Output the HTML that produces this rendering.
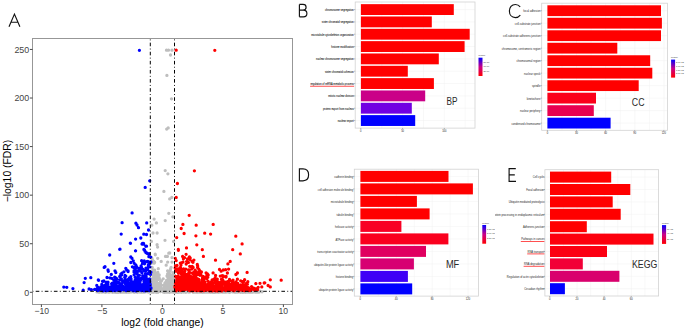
<!DOCTYPE html><html><head><meta charset="utf-8"><style>html,body{margin:0;padding:0;background:#fff;width:685px;height:330px;overflow:hidden}svg{display:block}</style></head><body>
<svg width="685" height="330" viewBox="0 0 685 330" style="font-family:'Liberation Sans', sans-serif">
<rect width="685" height="330" fill="#fff"/>
<g>
<path d="M166.5 50.2h0M168.5 50.2h0M172 50.2h0M170.5 55h0M166.9 75.4h0M171.5 98.8h0M166.7 129.1h0M168.2 127.9h0M165.2 170.6h0M167.9 173.8h0M163.9 191.4h0M169.7 198.9h0M171.8 197.4h0M154.1 219.1h0M156.4 222.9h0M151.8 225.2h0M165.2 220.6h0M168.8 213.3h0M153 233h0M157.1 233h0M151.4 241.4h0M165 240.3h0M157.1 244.7h0M157.6 247.1h0M168.8 253.2h0M155.2 254.2h0M172.9 216.8h0M173.6 241.4h0M155.3 254.8h0M165.5 256.4h0M167.4 256.4h0M169.7 253h0M157.7 258.3h0M161.2 261.4h0M172 257.6h0M151.8 257.9h0M167.7 262.1h0M172 262.1h0M166.2 265.2h0M171.1 267.4h0M163.2 278.8h0M161.4 281h0M151.3 288.3h0M151 290.8h0M151 288.4h0M151.3 288.9h0M151.1 289.1h0M151.2 274.2h0M151.2 289.2h0M151.3 263.2h0M151.2 290.3h0M151.3 273.4h0M151.1 289.8h0M151 284.5h0M151.3 282.4h0M151.9 289h0M151.6 279.4h0M151.7 286.6h0M151.7 287.5h0M151.4 286.5h0M151.4 282.7h0M151.6 285.3h0M151.7 288.5h0M151.6 290.9h0M151.9 284h0M151.9 290.5h0M151.7 280.2h0M151.6 290.2h0M151.5 289.7h0M151.8 290.2h0M152.3 286.4h0M152.2 283.6h0M152.2 282.1h0M152.2 287.7h0M152.3 288.5h0M152.3 279h0M152.3 287.9h0M152.3 259.4h0M152.1 288.3h0M152.2 267.4h0M152 290.9h0M152.1 282.1h0M152.8 287.3h0M152.9 288.9h0M152.8 290.2h0M152.4 289.8h0M152.4 285.2h0M152.7 289.3h0M152.9 287.2h0M152.5 289.4h0M152.8 269.9h0M152.5 290.8h0M152.8 288.7h0M152.9 285.3h0M152.7 287.5h0M152.8 285.9h0M152.6 271.6h0M152.5 280.1h0M152.4 282.4h0M152.6 274.5h0M152.9 284.2h0M153.1 270.3h0M153.4 282.9h0M153 288.6h0M153 286.3h0M153 289.1h0M153.3 282.5h0M153 284.1h0M153 274.7h0M153.3 288.4h0M153.3 276.8h0M153 287.7h0M153.1 272.8h0M153 281.6h0M153.2 286h0M153.2 273.4h0M153 273.3h0M153.1 278.6h0M153.3 289.3h0M153.5 290.8h0M153.5 261.1h0M153.4 271.2h0M153.5 280.1h0M153.4 289.5h0M153.7 290.2h0M153.6 270.5h0M153.8 273.6h0M153.9 290.7h0M153.5 278.2h0M153.7 290.7h0M153.7 288.8h0M153.6 290.1h0M154.1 273.9h0M154 285.6h0M154 286.5h0M154 281.6h0M154 280.1h0M154.2 290h0M154.1 285.4h0M154.4 287.5h0M154 263.2h0M154.3 280.3h0M154 289.4h0M154 290.4h0M153.9 285.2h0M154.1 284.4h0M154.1 290.9h0M154.2 282.4h0M154.7 284.7h0M154.8 280.9h0M154.6 287.9h0M154.6 262.2h0M154.6 287.1h0M154.6 289.8h0M154.9 291h0M154.7 270.2h0M154.5 283.5h0M154.6 288.8h0M154.5 290h0M154.8 278.8h0M154.9 290.6h0M154.7 287.9h0M154.7 284.7h0M154.6 262.6h0M154.9 280.3h0M155.3 285.4h0M155 283.3h0M155.3 287.3h0M155.3 287.1h0M155.2 283.6h0M155.2 288h0M155.2 284.9h0M155 283.6h0M155 272.3h0M155.1 281h0M155.2 285.9h0M155 289.8h0M155.4 285.1h0M155.2 285.2h0M155.3 288.9h0M155 277.5h0M155.1 283h0M155.3 273.5h0M155.3 290.7h0M155.1 277.1h0M155.3 290h0M155 288.7h0M155.5 287.6h0M155.8 285.4h0M155.6 290.3h0M155.7 286.4h0M155.6 278.8h0M155.8 289.8h0M155.7 287.5h0M155.7 288.9h0M155.6 287.8h0M155.6 290.9h0M155.5 284.5h0M155.4 289.5h0M155.8 288.5h0M155.6 288.9h0M155.8 290.3h0M155.7 276.1h0M155.5 286.8h0M155.8 283.7h0M155.6 290.7h0M155.6 287.5h0M155.8 288.3h0M155.6 283h0M155.8 287.7h0M156.1 284.5h0M156.4 289.4h0M156.4 281.7h0M156.1 282.8h0M156.1 290.5h0M156.3 287.4h0M156.2 285.9h0M156.4 280.4h0M155.9 284.3h0M156.1 286.4h0M156.3 287h0M156.1 274.5h0M156.1 286h0M156.2 278h0M156.2 280.9h0M156.1 290.7h0M156.2 285h0M156.3 280h0M156 289.1h0M156.4 279h0M156.5 290.3h0M156.8 285.1h0M156.4 282.9h0M156.8 286.3h0M156.4 282.7h0M156.6 284.8h0M156.9 279h0M156.8 289.9h0M156.6 285.8h0M156.5 288.8h0M156.6 288.9h0M157.3 285.6h0M157.2 287.4h0M156.9 288.6h0M157.3 280.3h0M157.3 289h0M157 290.6h0M157.2 287.9h0M157.1 286.6h0M157.2 288h0M157.3 289.5h0M157.4 285.6h0M156.9 288.5h0M157.2 287.5h0M157.2 288.4h0M157 280.5h0M157 282.8h0M157.3 285.1h0M157.1 273h0M157.1 277.1h0M156.9 287.2h0M157.7 290.7h0M157.8 290.5h0M157.7 289.8h0M157.9 285.9h0M157.8 286.8h0M157.7 284.1h0M157.5 289.5h0M157.8 290h0M157.9 289.6h0M157.5 290.4h0M157.8 272.5h0M157.6 284.4h0M157.5 276.5h0M157.7 290h0M157.4 283.7h0M157.4 279.9h0M157.5 289.4h0M157.7 288.6h0M158.2 290h0M158.4 288.8h0M158.3 290.1h0M158.3 268.7h0M158.1 290.8h0M158.1 285.2h0M158 286.5h0M157.9 287.4h0M158.3 287.8h0M158.2 290.3h0M158.3 290.3h0M158.4 286.7h0M158 288.6h0M158.3 287.1h0M158.4 290.4h0M158.1 279.6h0M158.7 287h0M158.4 290.2h0M158.5 279.4h0M158.8 289.7h0M159.4 290.8h0M159.2 274.9h0M159.1 277.4h0M159.2 290.8h0M159.1 288.2h0M159 284.6h0M159 283.7h0M159 290.7h0M159.2 290.5h0M159.2 283.7h0M159.2 288.1h0M159.4 288h0M159.4 286.6h0M159.5 287.4h0M159.6 289h0M159.7 290.2h0M159.5 279.1h0M159.6 283.2h0M159.8 288.3h0M160 290.6h0M160.3 290.5h0M160.1 288.2h0M160 288.7h0M160 288.2h0M160.2 289.3h0M160 289.1h0M160.5 290.6h0M160.5 284.7h0M160.7 284.2h0M160.4 282.2h0M160.6 286.2h0M161.2 288.2h0M161 287.7h0M161 290.3h0M160.9 289.8h0M161.2 290.2h0M161.3 290.8h0M161.2 290.4h0M161.7 288.3h0M161.8 290.9h0M161.5 289.4h0M162.4 290.9h0M162.2 289.2h0M162.8 290.4h0M162.8 290.1h0M162.9 291h0M162.9 290.2h0M163.1 290.9h0M163 289h0M163.2 290.8h0M163.1 290.8h0M163.5 290.6h0M163.6 285.3h0M163.9 288.6h0M163.6 289.9h0M164.3 285.9h0M164.3 288.8h0M164 288.9h0M164.3 287.7h0M163.9 288.3h0M164.1 290.6h0M164.4 288.6h0M164.8 290.6h0M164.8 283.3h0M164.9 287.2h0M164.8 286.5h0M164.7 289.4h0M164.8 286.7h0M164.8 290h0M164.9 288.9h0M165.4 290.6h0M165.4 285.6h0M165 284.7h0M165 290.2h0M165.1 290.1h0M165.1 282.7h0M165.2 286.7h0M165.1 285.7h0M165.8 286.5h0M165.9 284.1h0M165.6 290.6h0M165.7 283.9h0M165.6 287.4h0M165.8 284.8h0M165.4 288.4h0M165.4 290.5h0M165.8 288.9h0M166.2 288.3h0M166.1 290h0M166.1 282.9h0M166.2 289.5h0M165.9 289.6h0M166.3 288.5h0M166.2 283.8h0M166 286h0M165.9 283.5h0M166.5 289.5h0M166.9 288.9h0M166.5 280.5h0M166.7 280.3h0M166.6 287.7h0M166.9 287.6h0M166.9 290h0M166.8 290.2h0M166.7 291h0M167 276h0M167.1 282.4h0M167 288.7h0M167.5 286.7h0M167.8 287.1h0M167.6 276.7h0M167.8 285.1h0M167.4 285.7h0M167.6 273.9h0M167.6 285.2h0M167.7 288.5h0M167.7 284.9h0M167.9 287.3h0M167.6 270.8h0M167.4 281.3h0M167.7 286.6h0M168.1 283.3h0M168.3 283.7h0M168.3 290.8h0M168.1 290.2h0M168.4 278.6h0M168 286.1h0M168.2 290.7h0M168.1 283.3h0M168.2 289.2h0M168.3 289.1h0M168.7 287.9h0M168.9 285h0M168.8 284.5h0M168.6 272.1h0M168.8 284.3h0M168.5 290h0M168.7 281h0M168.8 288.6h0M168.5 286.8h0M168.8 290h0M168.8 289.9h0M168.6 290.7h0M169 288.2h0M169.4 271.7h0M169 288.8h0M169.4 289.7h0M169.1 287.6h0M169 289.2h0M169.1 288.1h0M169.4 289.2h0M169 276.9h0M169.1 280.3h0M169.2 282.1h0M169.1 290h0M169.3 287.3h0M169.2 284.4h0M169.3 289.1h0M169.1 276.3h0M169.7 289h0M169.7 289.2h0M169.8 290.7h0M169.8 286h0M169.6 274.2h0M169.5 289.3h0M169.4 286.2h0M170.3 284.2h0M170.1 281.1h0M170 288.8h0M170.2 270.4h0M170.2 283.9h0M170.3 288h0M170.4 282.8h0M170.1 288h0M170.3 288.4h0M170 278.6h0M170.2 286.6h0M170.2 277h0M170 288.5h0M169.9 287.8h0M170.2 279.5h0M170.2 285.8h0M170.1 285.9h0M170 279.8h0M170.3 280h0M170 284.3h0M170.3 286.8h0M170.3 277.2h0M170.8 280.5h0M170.7 278.2h0M170.5 283.6h0M170.8 285.2h0M170.5 290.6h0M170.7 280.4h0M170.5 289.5h0M170.5 290.4h0M170.7 268.6h0M170.8 288.3h0M170.7 290.5h0M171.3 288.6h0M170.9 284.9h0M171 289h0M170.9 287.4h0M171.2 280.9h0M170.9 280.2h0M171 289.4h0M171.2 288.4h0M171.1 285.8h0M171 281.3h0M171 279.8h0M171.3 286.3h0M170.9 281.7h0M170.9 286.7h0M171.1 290.6h0M171.2 283.1h0M171.2 287.9h0M171.7 285.5h0M171.5 278.5h0M171.9 280.9h0M171.9 288.5h0M171.9 290.5h0M171.6 290.1h0M171.6 283.9h0M171.8 287.2h0M171.6 289.7h0M171.6 288.9h0M171.5 282.7h0M171.7 287.4h0M171.5 283.5h0M172 289.1h0M172.2 283.4h0M172.4 282.4h0M172.4 275.2h0M172.3 283h0M171.9 289.6h0M171.9 278.5h0M172.3 284.8h0M172 288.3h0M172 284.7h0M172.4 288.7h0M171.9 289.8h0M172.1 276.7h0M172.3 287.2h0M172 290.3h0M172 281.6h0M172.4 281.1h0M172.1 280.2h0M172 290.3h0M172.2 286.6h0M172 289.2h0M171.9 276h0M172.8 272.7h0M172.9 287.4h0M172.8 287.9h0M172.8 279.4h0M172.5 290.9h0M172.5 285.5h0M172.6 290.9h0M172.8 281.3h0M172.6 290.7h0M172.8 286.2h0M172.4 288.5h0M172.7 277.4h0M172.6 284.6h0M173 289.2h0M173.4 287.9h0M173 285.3h0M173 289.6h0M173.1 285.4h0M173.2 283.2h0M173.1 290.6h0M173.3 290.7h0M173.1 287.8h0M173.2 283.1h0M173 284.4h0M173.2 287h0M173 275.8h0M173.2 290.6h0M173.5 287.8h0M173.8 279.9h0M173.7 282.4h0M173.4 290.4h0M173.9 280.7h0M173.4 290.7h0M173.5 274h0M173.5 283.9h0M173.9 284.5h0M173.9 289.1h0M173.5 290.9h0M174.3 290.3h0M174.4 283.1h0M174 280.5h0M174 286.4h0M174 281.1h0M174.3 275.1h0M173.9 278.8h0M174.2 280h0M174.2 284.8h0M174.2 280.7h0M173.9 290.6h0M174.2 288.8h0M174.1 291h0M174.3 290.8h0M174.3 280.3h0M174.1 290.2h0M174.2 289.5h0M174.1 290.3h0M258.1 291.8h0M155.2 291.3h0M217.5 292.2h0M237 291.3h0M157.7 291.5h0M222.8 291.4h0M197.1 292.3h0M223.9 291.2h0M109.4 291.3h0M211.3 291.9h0M182.8 291.7h0M164.2 291.9h0M204 292.3h0M217.9 292.1h0M247.6 292.2h0M215.3 291.2h0M209.3 292.2h0M168.1 292.2h0M126.7 292.3h0M169.9 292h0M138.7 291.5h0M154.5 291.6h0M112.6 291.7h0M258.8 292h0M250.8 292.1h0M235.1 292.3h0M221.2 291.5h0M138.2 291.7h0M100.5 291.5h0M243.2 292.3h0M151.2 292.1h0M224.9 292.2h0M228.1 291.8h0M114.3 292.1h0M148.8 291.9h0M157.6 291.8h0M256.3 291.4h0M184.6 291.9h0M185.8 292.3h0M164.2 292.3h0M210.8 292.3h0M111.8 291.4h0M144.4 292.2h0M99.2 291.5h0M215.1 292.3h0M126.1 291.7h0M210.3 292h0M220.1 292.1h0M138 291.5h0M101.6 292h0M131.5 291.5h0M256.1 291.9h0M194.5 292h0M195.6 292h0M147.1 291.3h0M108 291.2h0M156.6 291.4h0M115.6 291.8h0M257 292h0M142.1 292.1h0M126.4 291.3h0M147 291.7h0M210.8 291.7h0M217.2 291.3h0M250.8 291.6h0M234.3 291.2h0M233.7 291.5h0M238.1 292.1h0M207.7 291.5h0M98.6 291.4h0M246.3 291.4h0M205.8 291.9h0M206.1 291.4h0M120.7 291.3h0M259.1 291.6h0M204.6 291.9h0M133.8 291.3h0M99.4 292.2h0M118.5 292.3h0M157 292h0M119.8 292.1h0M138.5 291.6h0M183.3 291.3h0M138 292.1h0M144.1 291.6h0M223.2 291.5h0M129 291.5h0M160.4 291.6h0M202.8 291.7h0M240.5 291.3h0M206.5 292.2h0M135.7 291.2h0M169.3 291.3h0M172.9 292h0M112.5 291.3h0M176.1 291.4h0M135.1 291.7h0M116.5 291.3h0M156.6 291.7h0M251.5 291.8h0M108.8 291.5h0M219.8 291.8h0M240.6 292.3h0M238.6 291.3h0M252.7 291.8h0M136.6 291.4h0M239.7 291.4h0M110.7 291.5h0M249.5 291.7h0M217.7 291.3h0M171.7 291.6h0M130.9 292h0M156.6 291.3h0M259.4 291.8h0M126.7 291.2h0M204.7 291.8h0M101 291.7h0M219.2 291.8h0M135.6 291.8h0M196.8 291.9h0M120.9 292.1h0M253 292.1h0M238.5 291.6h0M245.9 291.4h0M134.4 291.9h0M245.8 291.3h0M132.8 291.2h0M169.4 291.4h0M128.6 292.1h0M193.2 292.3h0M163.3 292h0M99.1 292.3h0M135.5 291.7h0M181.4 292.3h0M178.2 292.3h0M199.5 291.4h0M234.6 291.4h0M261.9 291.7h0M134.3 292.3h0M150.1 291.7h0M153.6 292h0M100.8 291.6h0M123.7 292.2h0M97 291.9h0M139.5 291.7h0M189.7 292h0M119.7 291.5h0M116.9 292.3h0M121.6 291.4h0M183.2 291.9h0M243.3 291.3h0M135.7 291.4h0M193.6 291.7h0M164.5 292.2h0M206.2 292.2h0M254.9 291.5h0M252.4 291.7h0M105.5 292.3h0M114.2 291.2h0M144.8 291.5h0M256.5 292.2h0M166.3 291.8h0M237.1 292.1h0M204.8 291.8h0M116.2 291.5h0M205.6 291.9h0M229.2 292.2h0M255.8 291.4h0M109.5 292.2h0M191.1 291.4h0M211.2 291.5h0M136 291.6h0M183.4 292h0M109.1 292.1h0M200 291.7h0M207.9 292.1h0M98.6 291.7h0M208.9 292h0M203.8 291.4h0M255.2 292.1h0M135.4 291.7h0M255.1 291.4h0M164.5 292.3h0M245.5 291.5h0M218.3 291.6h0M206.5 292.1h0M118 291.5h0M132.5 291.5h0M102.9 291.4h0M164 291.7h0M109.8 291.9h0M252.5 291.9h0M155.7 292h0M169.1 291.4h0M176.5 291.2h0M208.5 291.4h0M158 292.3h0M223.5 292.2h0M202.9 291.9h0M213.3 292.3h0M129.4 292.1h0M146.6 291.5h0M232.6 291.9h0M237.2 292.2h0M194.2 291.4h0M99.5 291.8h0M216.7 291.5h0M108.6 291.2h0M125.6 292h0M97.6 291.5h0M140.7 292h0M259.9 291.2h0M115.8 292.3h0M257 291.4h0M152.3 291.8h0M149.8 291.7h0M176 291.5h0M106.1 291.3h0M123.8 291.3h0M200 292h0M140.4 292.1h0M217.2 291.6h0M178.1 291.4h0M250.3 291.8h0M105.5 291.4h0M211.3 291.6h0M215.3 291.5h0M228.5 292.1h0M112.5 291.9h0M128.6 292h0M229.7 292.1h0M135.2 291.3h0M206.5 291.8h0M119.8 291.4h0M193.1 291.3h0M201.6 291.5h0M139.7 291.7h0M185 292h0M102.1 292h0M133.5 291.5h0M202.6 292h0M198.4 292.2h0M130.8 291.6h0M206.3 291.5h0M123 291.5h0M224.3 292.2h0M215.2 292.3h0M228.1 291.6h0M149.1 292h0M106.2 291.9h0M111.7 291.3h0M181.8 291.4h0M250.7 292.2h0M173.2 291.4h0M116.7 291.8h0M183 291.6h0M215.2 291.8h0M224.9 291.3h0M108.6 291.6h0M176.8 291.5h0M207.3 291.5h0M149.5 291.7h0M214.5 292.1h0M158.3 291.7h0M250 292.3h0M199.1 291.3h0M172.2 291.9h0M143 291.2h0M258.9 292.2h0M118.3 291.7h0M199.2 291.5h0M108.3 292.1h0M224.2 291.7h0M111.1 291.7h0M112.5 292.3h0M105.5 291.5h0M223.7 291.4h0M114.6 291.3h0M124.1 291.8h0M234.5 291.4h0M125.7 292.1h0M167.3 291.6h0M117.3 291.5h0M257.3 291.3h0M139.8 292.1h0M244.1 292.2h0M175 292.3h0M196.7 291.5h0M173.8 292h0M218.1 291.3h0M129 292.3h0M114.7 292.1h0M152.9 291.5h0M139.1 291.7h0M260.4 291.4h0M238 291.6h0M125.5 292.1h0M153.4 291.4h0M166 292.1h0M239.4 291.9h0M98.7 292.1h0M197.1 292.2h0M254.1 291.6h0M237 292.1h0M140.9 291.6h0M158.8 291.6h0M159.4 291.3h0M134.5 292.2h0M164.7 291.9h0M243.4 292.1h0M137.3 292.3h0M229.7 292.3h0M217.1 292.1h0M231.1 291.5h0M205.2 291.6h0M235.6 291.4h0M186 291.6h0M232.4 291.6h0M236.2 292.2h0M242 291.4h0M251.8 292.1h0M208.7 292h0M104.9 292.2h0M187.4 291.7h0M153 292.1h0M226.1 292.2h0M132.3 291.6h0M138.1 291.3h0M151 291.2h0M228.4 291.5h0M108.7 291.3h0M219.3 291.4h0M173.2 291.7h0M229.4 292.3h0M148.1 291.9h0M244.6 291.7h0M245.4 292h0M148.4 292.2h0M191.6 291.3h0M193.9 292.2h0M182.6 291.8h0M165.7 292.2h0M206.8 291.4h0M156.8 291.6h0M255.2 292h0M117.6 292.3h0M102.8 291.9h0M168.3 292h0M167.8 291.3h0M183.4 292.1h0M227.2 291.6h0M133.7 292.1h0M229.3 291.5h0M242.7 292.3h0M168.5 291.6h0M214.1 292.3h0M130.3 291.5h0M151.3 292h0M127.8 291.8h0M179.6 292h0M120.6 292.3h0M262 291.8h0M228.2 291.4h0M247.2 291.8h0M222.3 292.2h0M156.7 292.3h0M131.2 291.2h0M179.9 292.2h0M245.6 292.3h0M181.3 292.3h0M189.4 291.4h0M201.1 292.1h0M166.9 291.9h0M139.8 291.5h0M166.3 291.8h0M174.3 291.3h0M97.9 291.6h0M215.3 292.1h0M136.1 291.5h0M182.3 291.4h0M196.5 292.2h0M130.3 291.9h0M215.9 292.1h0M214.5 292h0M142 292.2h0M249.6 291.3h0M252.8 291.7h0M111.2 291.3h0M228.5 292h0M120.4 291.7h0M202.4 292.3h0M152.4 292.1h0M137.4 291.4h0M123.6 291.7h0M199 291.5h0M123.7 291.5h0M111 291.4h0M149.1 291.8h0M127.3 291.8h0M169.6 292.3h0M177.2 292.3h0M174.8 291.4h0M194.7 291.4h0M124.9 291.3h0M212.7 292.3h0M163.6 291.6h0M167.2 291.6h0M211 291.7h0M122.1 292.2h0M191.5 291.2h0M237.2 292h0M155.5 291.9h0M248.8 291.7h0M168.4 291.5h0M188.4 292h0M218.3 292.3h0M121 291.6h0M237.5 292.1h0M194.4 292h0M153.1 292.3h0" stroke="#bebebe" stroke-width="3.30" stroke-linecap="round" fill="none"/>
<path d="M139.4 50.3h0M149.7 180.8h0M145.2 187.4h0M132.1 212.9h0M122.1 222.7h0M135.9 223.2h0M137 225h0M138.5 227.7h0M146.7 222.9h0M148.5 230h0M121.2 234.1h0M143.8 234.2h0M146.5 234.5h0M140.8 238h0M135.6 239.1h0M130.3 243.2h0M142 244.1h0M143.5 243.3h0M146.5 246.2h0M120 249.2h0M135.6 250.8h0M143.9 249.4h0M145 251.2h0M146 252.7h0M147.3 253.5h0M130.5 243.3h0M142.5 243.3h0M143.7 244.2h0M145.8 246.3h0M119.7 249.3h0M135.5 250.8h0M144.5 250h0M146.7 253h0M109.7 255h0M130.8 257h0M132 258.3h0M149.2 256.7h0M133.3 260.8h0M130.8 262.5h0M134.2 263.3h0M144.2 260.8h0M142.5 263.3h0M145 262.5h0M148.3 261.7h0M150 263.3h0M113.8 263.3h0M105 266.7h0M108 270h0M108.3 271.3h0M115 270.8h0M115.8 272.5h0M125.8 268.3h0M126.7 270h0M135.8 265h0M136.7 266.7h0M135 269.2h0M139.2 268.3h0M140 270.8h0M120.8 274.2h0M111.7 278.3h0M107 277.5h0M98.3 280h0M102.5 281.3h0M63.8 287.1h0M66.8 287.3h0M72.9 288.6h0M83.2 290.2h0M84.1 282.6h0M85.3 278.3h0M90.8 277.7h0M98.6 280.3h0M102.9 281.4h0M104.2 267.4h0M89.1 289h0M91.4 289.7h0M94.6 289.4h0M96.8 285.4h0M96.8 289h0M97 289.7h0M96.9 289.3h0M96.6 289.6h0M97.7 287.1h0M97.6 288.4h0M98.8 288.9h0M99.3 289.7h0M99.5 289.3h0M99.8 288.6h0M99.7 287.8h0M100.2 289h0M100.9 286.8h0M101.1 287.6h0M101.8 284.3h0M101.9 288.9h0M102 289.5h0M102.2 285.9h0M102.1 288h0M102 286.8h0M102.4 287.5h0M102.9 288.7h0M102.8 287.2h0M103.8 288h0M103.9 281h0M104.2 286.4h0M104 286h0M104.4 288.8h0M104.2 286.3h0M104.5 287.8h0M105.1 289.4h0M105.5 284.9h0M105.6 288.8h0M106.2 282.7h0M106 287.8h0M106.3 282.4h0M106.4 282.9h0M106.1 288h0M106.2 282.4h0M107 289.2h0M106.6 288.9h0M106.6 287.5h0M106.8 288.7h0M106.5 287.9h0M106.7 286.9h0M107 285.7h0M107.3 286.4h0M107.3 289.6h0M107.9 284.3h0M107.9 284h0M107.7 288h0M107.6 286.2h0M107.5 289.5h0M108.1 289.1h0M108.2 289.6h0M108 289.2h0M108.1 288.1h0M108 282.2h0M108.8 289.2h0M109.1 288.2h0M109.2 289.3h0M109.7 287.2h0M110 289.4h0M110.2 288.6h0M110.4 289.1h0M110 277.9h0M110.3 289.2h0M110.8 289.7h0M111.3 274.4h0M111.9 285h0M111.6 287.9h0M111.6 283.8h0M111.8 283.7h0M112.2 288.8h0M112.4 283.1h0M112.9 284.2h0M112.6 286.8h0M112.7 289.7h0M113 288.4h0M113.1 284.9h0M113.5 287.3h0M113.5 287.9h0M113.6 288.7h0M113.6 288.8h0M113.8 280.1h0M114.4 287h0M114.3 283h0M114 285.2h0M114.5 283.3h0M114.4 287h0M114.6 283.1h0M114.7 282.9h0M115 287.6h0M114.7 277.2h0M114.9 289h0M114.6 289.1h0M115 282.8h0M115.1 282.2h0M115.5 285.2h0M115.2 286.4h0M115.1 289.7h0M116 285.2h0M115.8 278h0M116.2 280.8h0M116.4 288.8h0M116.1 288.3h0M116.1 285.9h0M116.1 287.4h0M116.1 279.2h0M116.7 287.1h0M116.8 279.4h0M116.7 278.7h0M117.3 286.4h0M117.3 289.7h0M117.7 288.9h0M117.5 282.5h0M117.6 286.9h0M117.9 286.1h0M117.7 286.5h0M118.3 282.8h0M118.1 286.1h0M118.1 288.3h0M118.9 286.5h0M119.3 283.2h0M119.5 287.1h0M119.8 286.5h0M119.8 284.3h0M119.7 286.2h0M119.7 276.5h0M119.8 280h0M120.5 288.4h0M120.3 276.2h0M120.4 289.1h0M120.6 287h0M120.5 288.5h0M120.5 284.5h0M121.4 278.8h0M121.6 283.7h0M121.8 289h0M121.9 273.1h0M121.6 274.9h0M121.7 286.5h0M122.5 281h0M122.1 287h0M122.8 287.7h0M122.6 287.9h0M122.9 289.7h0M123.3 286.9h0M123 287.8h0M123.3 286.2h0M123.9 271.8h0M123.6 288.2h0M123.5 282.2h0M124.1 289.1h0M124.7 277.3h0M124.9 288.3h0M125.1 276.8h0M125.3 283.5h0M125 289.5h0M125.3 286.9h0M125 275.3h0M125.3 281.4h0M125 279.7h0M125 279.5h0M125.7 287.6h0M125.8 276.1h0M125.6 289.1h0M125.8 288.4h0M126.1 288.9h0M126 288.6h0M126.2 287.9h0M126.4 288h0M126.3 288.8h0M126.7 289.7h0M126.6 289.7h0M126.9 285.5h0M126.6 286.3h0M127 289.2h0M127.4 286.7h0M127.2 280h0M127.2 286h0M127.2 280.1h0M127.4 284.3h0M127.7 287.5h0M127.5 289h0M127.5 282.4h0M127.6 288.8h0M127.5 279.7h0M127.9 283.7h0M127.6 288.3h0M127.6 286.4h0M127.6 286.6h0M128.1 271.6h0M128.5 285.4h0M128.1 271h0M128.7 287.3h0M128.5 287.1h0M128.7 285.9h0M128.6 285.8h0M128.5 288.1h0M128.5 286.9h0M129 289.7h0M129.2 288.3h0M129.3 285.5h0M129.4 283.7h0M129.4 277.8h0M129.2 287.6h0M129.5 288.9h0M129.4 283.9h0M129 279.5h0M129.9 284.1h0M129.9 280.2h0M130.6 285.4h0M130.8 279.2h0M130.9 279.5h0M130.8 276.6h0M130.8 282.8h0M131.1 289.6h0M131.1 287.1h0M131.1 279h0M131.3 283.9h0M131.3 283h0M131.2 289.8h0M131.4 281.5h0M131.3 285.2h0M131.8 289.4h0M131.9 288h0M131.5 287.9h0M131.9 288.4h0M132.4 266.8h0M132.2 286.8h0M132.2 282.7h0M132.4 283.9h0M132.3 289.3h0M132.1 288h0M132.9 287.5h0M132.8 289.7h0M132.5 287.8h0M132.8 282.4h0M132.8 287.6h0M132.8 285.9h0M133.2 289h0M133.9 288.4h0M134 272h0M133.5 285.8h0M133.9 267.5h0M133.7 287.8h0M134.1 270.7h0M134.1 284.1h0M134.1 284.9h0M134.5 288.9h0M134.4 285.1h0M134.4 281.8h0M134.1 274.8h0M134.2 289.6h0M134.5 285.3h0M134.7 287.4h0M134.6 287h0M135.2 277.4h0M135 280.4h0M135.4 288.9h0M135.5 281.4h0M135.5 287.5h0M135.2 286.4h0M136 283.7h0M135.7 286h0M135.6 289.5h0M135.6 277.5h0M136.1 270.8h0M136.1 287.7h0M136.3 288.3h0M136.2 268.1h0M136.4 278.2h0M136.3 272.8h0M136.5 284.3h0M136.4 289.4h0M136.4 285.6h0M136.4 282.6h0M136.6 289.4h0M137 288.8h0M136.7 286.8h0M136.6 280.4h0M137 287.7h0M137.3 287.3h0M137.3 286.2h0M137.1 288.5h0M137.1 273h0M137.2 288h0M137.2 288.7h0M137.1 289.1h0M137.2 289.1h0M137.1 287.7h0M137.3 274.2h0M137.4 286h0M137.7 284.4h0M137.7 286.8h0M137.5 287.5h0M138 288.8h0M137.8 282.6h0M137.9 288h0M138.1 287.7h0M138.2 285.5h0M138.5 276h0M138.4 289.6h0M138.5 280.6h0M138.9 285.1h0M138.8 289.8h0M138.7 270.4h0M139.4 275.3h0M139.5 287.7h0M139.1 288.5h0M139.3 281.2h0M139.5 280.2h0M139.3 278.9h0M139.2 283.8h0M139 278.4h0M139.1 270.9h0M139.3 287.1h0M139.1 287.6h0M139.8 280.7h0M139.6 289.2h0M139.8 283.2h0M139.7 287.9h0M139.8 289.7h0M139.7 285.1h0M140 281.9h0M139.9 284.9h0M140.1 287.6h0M140.5 280.4h0M140.2 289.6h0M140.2 281.2h0M140.2 287.5h0M140.8 269.6h0M140.6 289.5h0M140.7 285.6h0M140.8 288.1h0M140.9 279.3h0M141.3 288h0M141.5 286.9h0M141.4 287.7h0M141.1 278.5h0M141.1 265.9h0M141.2 288.2h0M141.1 285.6h0M141.3 266.4h0M141.1 285.9h0M141.6 260.7h0M141.6 289.4h0M141.5 285.8h0M141.9 272.7h0M142 286.6h0M141.6 267.9h0M141.9 289.5h0M142.3 286h0M142.2 286.6h0M142.1 289.8h0M142.1 286.3h0M142.5 288.7h0M143 287.9h0M142.7 275.7h0M142.9 285.2h0M142.5 284.6h0M142.7 269.2h0M143.1 286.1h0M143.4 289.5h0M143.2 276h0M143.4 289.5h0M143 289.3h0M143.5 287.3h0M143.9 270.7h0M143.7 287.1h0M144 281.8h0M143.6 279.3h0M143.7 287.1h0M143.5 278h0M144 281.4h0M144 289.6h0M143.6 284.4h0M144.5 263.8h0M144.2 287.4h0M144.2 284.1h0M144.5 288.1h0M144.4 278.5h0M144.4 277.3h0M144.3 286.4h0M144.7 286h0M144.9 289.1h0M144.6 277.9h0M144.6 289.2h0M144.5 282.9h0M144.6 289.1h0M145 283.8h0M145.4 284.7h0M145.1 285.1h0M145.3 280.1h0M145.4 273.6h0M145.8 288.7h0M145.9 286.7h0M145.8 285.7h0M145.9 287.8h0M145.6 287.3h0M145.6 270.9h0M145.8 286.3h0M145.8 287.5h0M145.9 280.5h0M146 288.9h0M145.7 274.8h0M145.9 268.2h0M146 286.7h0M146.1 287.9h0M146.5 282h0M146.5 285.6h0M146.4 284.5h0M146.1 276.4h0M146.5 288.8h0M146.8 281h0M146.6 285.6h0M146.6 287.7h0M146.6 281.5h0M146.8 287.7h0M146.5 286.2h0M146.8 287.9h0M146.7 287.7h0M146.9 282.6h0M147 288.8h0M147.2 282.4h0M147.3 288.9h0M147.1 278.8h0M147.2 286.7h0M147.2 261.5h0M147.2 282.1h0M147.2 284.8h0M147.7 287.7h0M147.9 287.7h0M147.5 268h0M147.7 273.7h0M147.7 269.6h0M147.7 288.1h0M148 282.1h0M148.3 266.8h0M148 280.5h0M148.2 283.1h0M148.1 286.6h0M148.3 265h0M148.6 283.2h0M148.9 256.7h0M148.6 288.5h0M149 253.7h0M148.7 289.3h0M149.5 285h0M149.5 280.2h0M149.4 288.1h0M149.4 287.3h0M149.2 271.3h0M149.4 287.8h0M149.6 284.7h0M149.8 284.9h0M149.6 286.9h0M149.9 266.9h0M149.5 281.5h0M149.9 289.4h0M149.9 288.5h0M149.8 281.8h0M149.8 286.1h0M149.7 281h0M149.7 279h0M149.7 284h0M149.5 280.1h0M150.2 287.1h0M150.4 274.3h0M150.2 287.8h0M150.2 288.6h0M150.1 284h0M150 283.8h0M150.3 289.4h0M150.3 288.9h0M150.4 274.4h0M150.3 289.2h0M150.3 284.9h0M151 288.3h0M150.9 272.2h0M150.7 257.1h0M151 287.9h0M150.9 262h0M103 290.5h0M128.2 290.1h0M118.6 290.1h0M120.3 290.8h0M126.2 290.6h0M137.1 290.1h0M149.5 290.6h0M102.4 290.7h0M117.8 290.2h0M147.9 290.5h0M138.1 290.1h0M138.1 290.1h0M109.6 290.3h0M97.8 290.5h0M108.3 290.3h0M134.5 290.4h0M144.1 290.6h0M143.2 290.5h0M145.6 290.8h0M105.9 290.7h0M115.1 290.7h0M133.1 290.7h0M103.5 290.3h0M136.1 290.9h0M135.3 290h0M129 290.1h0M126.1 290.7h0M103 290.8h0M132.8 290.2h0M107.2 290.4h0M141.4 290.5h0M103 290h0M102.9 290.7h0M106.8 290.5h0M112.4 290.6h0M117.2 290.1h0M143.4 290.5h0M133.5 290.7h0M147.3 290h0M115.1 290.1h0" stroke="#0000ff" stroke-width="3.30" stroke-linecap="round" fill="none"/>
<path d="M176.2 50.2h0M214.8 50.3h0M194.4 170.8h0M177.4 183.5h0M176.2 197.4h0M189.2 215.3h0M182.9 224.4h0M196.2 225.2h0M213.2 224.4h0M181.2 228.5h0M184.1 233.5h0M204.7 233.2h0M210.6 234.1h0M195.9 235.8h0M176.7 237.6h0M196.8 244.8h0M186.5 247.9h0M178.3 249.4h0M202.3 249.7h0M235.8 236.2h0M242.1 243.9h0M232.7 249.7h0M240.3 253.9h0M178.4 250.3h0M182.6 256.4h0M189.4 256.8h0M203.4 256.4h0M215.5 260.2h0M176.2 260.6h0M175.3 258.3h0M183.4 258.8h0M189.9 259.4h0M230.2 261.4h0M227.9 263.9h0M219.5 269.4h0M221.1 271.2h0M223.3 270h0M225.6 269.7h0M228.6 269.1h0M227.4 273h0M237.4 273h0M235.9 274.5h0M247.1 272.4h0M220.3 276.1h0M217.3 279.1h0M222.3 280.3h0M237.4 279.2h0M229.4 280.3h0M231.7 281.1h0M243.5 281.5h0M255.9 283.6h0M260 283.3h0M264.2 283h0M246.5 283.6h0M270.3 279.8h0M281.2 280.2h0M243.6 281.2h0M246.1 283.6h0M255.8 283.6h0M264.8 282.8h0M268.1 285.5h0M270.3 286.9h0M258.2 287.3h0M261.8 286.9h0M174.9 286.1h0M175.3 288.3h0M175.3 287h0M175.3 288.5h0M175.2 268h0M175 287.2h0M175.2 286.5h0M175.4 288.1h0M175.5 265.9h0M175.7 270.2h0M175.5 276.5h0M175.5 283.2h0M175.7 285.9h0M175.8 282.8h0M175.7 271.2h0M176.2 285.4h0M176.3 287.1h0M176.4 282.3h0M176.1 277.2h0M176.1 288.1h0M176.3 289.4h0M176.3 287.2h0M176.7 280.2h0M176.6 289.8h0M176.4 288.4h0M176.7 284.8h0M176.7 269.9h0M176.5 287.5h0M176.7 289.6h0M176.4 285.9h0M177 285.9h0M177 282h0M177.2 287.8h0M177.2 284.1h0M177 265.4h0M177 288.4h0M176.9 280.8h0M177.3 276.3h0M177.6 287.1h0M177.4 280.6h0M177.7 286h0M177.7 284.6h0M177.9 278h0M177.5 268.9h0M177.4 283h0M177.6 287.4h0M177.9 276.2h0M177.9 282.6h0M178.4 288.4h0M178 281.4h0M178.2 280.6h0M178.8 288.1h0M178.6 286.6h0M178.4 269.9h0M178.8 278.4h0M178.4 273h0M179.3 284.1h0M179.3 284.3h0M179 288.8h0M179 289.4h0M179.6 277.1h0M179.7 272.7h0M179.8 287h0M180.2 284.5h0M180.3 283h0M180 280.3h0M180.4 287.5h0M180.3 289.7h0M180 287.3h0M180.3 263.1h0M180.3 286.1h0M180.3 286.1h0M180 267.8h0M180.2 278.9h0M180.6 272.8h0M180.7 271.7h0M180.6 277.8h0M180.7 286.4h0M180.5 280.7h0M180.4 267.3h0M181 289.5h0M181 265h0M181.1 288.4h0M180.9 289.4h0M181.2 280.4h0M181.2 277.3h0M180.9 281.4h0M181.1 273.9h0M181.3 269h0M181.4 270.7h0M181.9 262.6h0M181.5 287.6h0M181.5 289.5h0M181.8 274h0M181.7 273.4h0M181.7 286.6h0M181.4 288.8h0M181.8 287.6h0M181.6 284.6h0M181.9 287h0M182 277.9h0M182.1 286.1h0M182.4 283.2h0M182.3 280.7h0M181.9 284.7h0M182.1 275.7h0M182.1 278.2h0M182.2 287.5h0M182.8 288.9h0M182.8 288h0M182.4 287.6h0M182.4 283.4h0M182.6 274.6h0M182.5 283.3h0M183.1 272.7h0M183 262.1h0M183 287.5h0M183.2 283.2h0M183 280.1h0M182.9 274.9h0M183.2 274.9h0M183.2 285.6h0M183.1 285h0M183.3 288.9h0M183.8 289.6h0M183.5 286.8h0M183.9 283.1h0M183.6 269h0M183.5 283.8h0M183.7 276.2h0M183.8 279.7h0M183.6 286h0M184 271.8h0M184.2 276.6h0M184 284.2h0M184.3 281.4h0M184.5 283.7h0M184.8 287.1h0M184.5 286.3h0M184.8 271.6h0M184.5 288.1h0M184.5 285.9h0M184.7 288.1h0M184.6 287.7h0M184.9 277h0M184.5 257.7h0M184.5 285h0M185.4 274.2h0M185.3 284.2h0M185 279.8h0M185 287.5h0M185.1 289.5h0M185.1 274.4h0M185.2 283h0M185.2 283.7h0M185.5 280.8h0M185.6 276.6h0M185.9 284.3h0M185.7 276.3h0M185.6 287.3h0M185.8 269.1h0M185.8 278h0M185.8 278.7h0M185.7 283.9h0M185.6 280.1h0M185.4 284.5h0M185.8 277.6h0M186.2 287h0M186.1 283.9h0M186.2 284.7h0M186.2 264.1h0M186 279.5h0M186.3 285.1h0M186.1 254.3h0M185.9 282.2h0M186 275.1h0M186.4 282.7h0M186 281.6h0M186.2 277.6h0M186.2 280h0M186.8 282.8h0M186.6 261.6h0M186.5 278.8h0M186.6 276.1h0M186.6 289.2h0M186.5 284.9h0M186.4 284.6h0M187.1 278.5h0M187.1 286.9h0M187 277.1h0M187.4 282.8h0M187 274.6h0M187.1 287.6h0M187 275.7h0M187.8 280.5h0M187.6 282.1h0M187.5 259h0M187.6 280.4h0M187.8 274.1h0M187.6 286.6h0M187.7 288.6h0M187.8 285.7h0M187.8 286.9h0M188.1 287.1h0M188.1 287.9h0M187.9 278.1h0M188 287.2h0M188.1 283.8h0M188.1 280.5h0M188.2 285.7h0M188.9 272.4h0M188.4 273.9h0M188.9 276h0M188.5 273.7h0M188.7 289.7h0M188.4 262.4h0M188.7 287.2h0M188.5 288.4h0M188.5 276.3h0M188.6 288.3h0M188.9 275.6h0M188.5 269.8h0M188.7 276.1h0M189.2 269.8h0M189.3 273.6h0M189 279.3h0M189.2 277.7h0M189.1 270.7h0M189.2 287.1h0M189 288.5h0M189.1 289.3h0M189.1 288.4h0M189.1 283.7h0M189.2 272.1h0M188.9 273.4h0M189.1 282.4h0M189.2 273.5h0M189.1 285h0M189.4 289.1h0M189.2 280.8h0M189.4 281.5h0M189.7 266.3h0M189.7 284h0M189.8 289.5h0M189.8 281.2h0M189.6 272.4h0M190.1 284.2h0M190.2 277.1h0M190 284.9h0M190.1 282.8h0M190.3 286.8h0M190.3 285.3h0M190.2 287.1h0M190.2 257.9h0M190.7 276.3h0M190.6 286.5h0M190.5 282.2h0M190.7 276.7h0M190.4 278.8h0M190.8 283h0M190.4 286.7h0M190.4 288h0M191.4 281.8h0M191.2 276.6h0M191.4 281.7h0M191.2 281.4h0M191.2 282.1h0M191.2 287.8h0M191.2 284.6h0M191.3 288.9h0M191.5 289.5h0M191.8 269.1h0M191.7 285.9h0M191.8 276.8h0M191.7 287.3h0M191.6 285.2h0M191.6 285h0M191.7 266.9h0M191.4 282.7h0M191.4 288.7h0M192.3 282.6h0M192.4 284.8h0M191.9 285.7h0M192.2 266.5h0M192.4 284.4h0M192.1 288.9h0M192.2 287.8h0M192 289.7h0M191.9 280.1h0M192 261.4h0M192.4 272.8h0M192.5 289.7h0M192.8 287.5h0M192.8 288.1h0M192.4 277.4h0M192.8 273.7h0M193.3 289.1h0M193.2 279.6h0M193.1 267.5h0M193 262.3h0M193.3 289.7h0M192.9 281.1h0M193.3 289.1h0M193.1 279h0M193.5 273.6h0M193.6 289.3h0M193.6 282.8h0M193.6 280.5h0M193.5 276.7h0M193.6 281.3h0M193.7 285.4h0M193.6 277.1h0M193.9 277.2h0M193.7 287h0M193.9 260.1h0M194.3 275.5h0M194.1 282.2h0M194.4 275.3h0M194.7 286.8h0M194.6 272.1h0M194.6 280.5h0M194.7 271.5h0M194.8 287.1h0M194.4 287.3h0M194.6 282.7h0M194.8 272.2h0M194.9 275.4h0M195.3 273.6h0M195.2 287.2h0M195.3 276.6h0M195.2 270.2h0M195.1 289.1h0M195.7 277.1h0M195.5 278.8h0M195.9 287.7h0M196.2 280.9h0M196.1 288h0M196 278.9h0M196.3 285h0M195.9 276.9h0M196.3 287.7h0M196.2 272h0M196.3 284h0M196.1 282.8h0M196 288.1h0M196 280.3h0M196.6 283.4h0M196.6 284.2h0M196.5 289.4h0M196.9 286.2h0M196.5 282h0M196.8 288.5h0M196.7 286.5h0M196.7 289.6h0M197.3 284.7h0M197.2 287.5h0M197.3 285.6h0M197.4 278.7h0M197.3 264.5h0M197 289.5h0M197.5 288.3h0M197.4 289.4h0M197.7 274.4h0M197.6 267.6h0M197.9 289.3h0M197.7 286h0M197.5 265.6h0M197.5 283.5h0M197.7 266.1h0M198.2 286.1h0M198.1 288.5h0M198 289.5h0M198.5 286.6h0M198.9 272.5h0M198.8 289.4h0M198.8 280.7h0M198.4 288.6h0M198.8 269.2h0M198.7 287.2h0M198.7 279.4h0M199 287h0M199 288.8h0M199.1 288.5h0M199 288.7h0M199.2 289.7h0M199.3 288.2h0M199.4 271h0M199.5 270.3h0M199.8 274h0M199.5 285.5h0M199.4 270.8h0M199.8 282.7h0M199.6 286.8h0M199.8 285.1h0M200.2 288.7h0M200 289.4h0M200.3 284.1h0M200 275.3h0M200 286h0M200.5 287.6h0M200.8 287h0M200.5 285.1h0M200.6 273.5h0M200.9 274.3h0M201.2 288.2h0M201.1 287.5h0M201 288.2h0M201.4 271.9h0M200.9 287.4h0M201.3 289.4h0M201.3 287.4h0M201.4 289.7h0M201.8 287h0M201.5 289.8h0M202.3 284.8h0M202 286h0M202.4 288.1h0M202.2 288.8h0M202 279.9h0M202.3 288.3h0M201.9 289.2h0M202.2 285.2h0M202 288.3h0M202.2 281.6h0M202.3 283.9h0M202.5 289.4h0M202.8 286.3h0M202.8 289.4h0M202.8 287.1h0M202.8 276.6h0M202.6 289.7h0M202.9 285.5h0M202.8 287.8h0M202.5 278h0M202.6 288.6h0M203.1 283.9h0M202.9 285h0M203.1 285.1h0M203 281.6h0M203.3 276.7h0M203.6 281.8h0M203.6 280.9h0M203.4 276.6h0M203.9 285.4h0M203.7 284.9h0M203.7 289.7h0M204.4 288.2h0M204 289.1h0M204 279h0M203.9 289.2h0M204.2 288.4h0M204.4 284.1h0M204.7 285.2h0M204.8 289.1h0M204.8 281.9h0M204.4 289h0M205.1 285.5h0M205 289h0M205.1 288.9h0M205.2 277.7h0M205.5 284.6h0M205.8 288.7h0M206.3 273.1h0M206.1 286.5h0M206.3 285.3h0M206.1 272.8h0M206.3 287.3h0M206 287.3h0M206.8 275.3h0M206.8 278.6h0M206.4 285.5h0M207.4 273.8h0M207 286.6h0M207.2 287.1h0M207.2 289.4h0M207.1 285.7h0M206.9 288.9h0M207.9 281.1h0M207.9 284h0M207.8 277.2h0M207.8 289.6h0M207.7 288h0M208.2 288h0M208.2 274.9h0M208.7 288.2h0M208.7 286.6h0M208.9 287.9h0M208.6 283.9h0M209 284.7h0M209.4 285.7h0M209.5 286.3h0M209.7 288.9h0M209.5 289h0M209.5 286.9h0M210 288.3h0M209.9 285.4h0M210.3 284.6h0M210.7 284.1h0M210.5 283h0M210.6 285.5h0M210.7 286.4h0M210.6 288.3h0M210.5 285.9h0M210.6 285h0M210.9 287.5h0M211.3 288.3h0M211.2 286.2h0M211 281.8h0M211.5 289.4h0M211.8 286.7h0M211.4 287.2h0M211.6 282.7h0M211.5 288.4h0M211.9 282.7h0M212 287.6h0M212.1 283.9h0M212.2 279.8h0M212.3 286h0M212.3 282.6h0M212.3 286.4h0M212.8 283.4h0M212.9 289.1h0M212.8 289.8h0M212.8 285.2h0M213.1 272.9h0M213.2 287h0M213.8 279.3h0M213.7 287.4h0M213.6 286.7h0M213.8 288h0M214.1 285.7h0M214.1 287.9h0M214.8 280.4h0M214.6 286.9h0M215 288h0M215 285.6h0M215.2 289.4h0M215.4 287.9h0M215.3 280.9h0M215.4 288.7h0M215.1 278h0M214.9 289.6h0M215.2 286.4h0M215.4 282.5h0M215.7 286.3h0M215.7 287.4h0M215.6 285.4h0M215.6 275.5h0M215.7 286.2h0M215.9 287.5h0M216.6 285.9h0M216.7 279.7h0M217.4 286.6h0M217.1 285.2h0M217.4 287.8h0M217.7 281.9h0M217.5 288h0M217.9 281.6h0M217.7 289.3h0M217.8 284.3h0M218.3 287.3h0M218 288.2h0M218.2 286.5h0M218.5 288.9h0M219.2 285.6h0M219.7 289.6h0M219.6 282.8h0M219.6 284.5h0M219.4 288.1h0M220.3 285.8h0M220.2 288.8h0M220.1 286.2h0M220 285.1h0M220.7 287.4h0M220.5 289h0M221.3 289.3h0M221 289h0M221.2 282.1h0M221.2 282.5h0M220.9 289.7h0M221.3 288.1h0M221.8 287.9h0M221.5 288.4h0M221.4 279.4h0M221.7 287.9h0M221.6 287.6h0M221.9 280.1h0M222.2 275.7h0M222.1 285.5h0M222 289.6h0M222.4 281.3h0M222.6 279.8h0M222.8 288.2h0M223.2 275.8h0M223.1 276.8h0M223 287.6h0M223.3 288.7h0M223.1 280.7h0M223.1 282.9h0M223.5 289h0M224.1 288.9h0M224.4 288.3h0M224.2 289.3h0M224.2 287.7h0M224.6 289.5h0M224.5 282.3h0M224.6 288.6h0M225 288.4h0M225 289.6h0M225.2 288h0M225 284.6h0M224.9 288.5h0M225.8 289.2h0M225.6 282.1h0M225.8 289.1h0M225.6 284.4h0M226.1 276.3h0M226 277h0M226.2 288.7h0M226.6 289.2h0M226.8 288.5h0M226.8 286h0M226.6 288.6h0M226.7 288.8h0M226.8 289.2h0M227.2 286.5h0M227 283.5h0M227.1 285.2h0M227.7 288.2h0M227.6 289.4h0M227.5 281.7h0M227.6 285.2h0M227.5 286.3h0M228.1 286.9h0M228 289.5h0M228.1 288.7h0M228.5 284.4h0M228.5 287.6h0M228.9 283.5h0M228.8 281.4h0M228.5 288.4h0M228.9 285h0M229.2 288h0M229.1 285.2h0M229.2 288.6h0M229.8 288h0M229.7 288.9h0M229.5 279.4h0M230.3 284.5h0M229.9 289.6h0M230.5 288.9h0M230.6 287.8h0M230.4 288.2h0M231.2 289h0M231.8 286.3h0M231.8 288.6h0M231.6 285.1h0M232.1 289.8h0M232.3 283.7h0M232 289.6h0M232.8 286.1h0M232.4 288.7h0M232.5 283.5h0M233 280.1h0M233.3 289.4h0M233.2 287.8h0M233.3 282.8h0M233 289.4h0M233.9 287.6h0M233.9 285.2h0M233.8 282.9h0M233.7 287.4h0M233.9 285.2h0M234.1 287h0M234.9 289.3h0M234.8 289.6h0M234.8 283.6h0M235 286.8h0M235.4 286h0M235.2 288.7h0M235.4 288.2h0M235.6 289h0M235.6 289.3h0M235.8 285.7h0M235.5 288.8h0M236.2 287.6h0M236.4 288.2h0M236 281.9h0M236.5 286.8h0M236.6 283.7h0M236.7 284.6h0M237 285.9h0M237.2 287.6h0M237.8 283.5h0M237.5 288.6h0M237.6 289h0M237.9 288.6h0M238 285.6h0M238.6 289.4h0M238.6 287.6h0M239.1 289.2h0M239.4 289.8h0M240.4 285.2h0M239.9 285.6h0M240.4 287h0M240 287.6h0M240.6 289.1h0M240.7 289.8h0M240.9 286.4h0M240.7 280.8h0M241.2 288.9h0M241 289.3h0M240.9 285h0M241.3 288.7h0M241.5 286.6h0M242.3 281.6h0M242 285h0M242.8 285.6h0M242.6 289.2h0M243.3 288.6h0M243.1 287.4h0M243.1 284.4h0M243 289.7h0M243.2 286.8h0M243.3 286.1h0M243.9 281.2h0M243.6 287.7h0M243.5 288.7h0M244.2 289.6h0M244.7 289.3h0M244.6 279.7h0M244.4 289.7h0M244.6 289.2h0M244.8 289.8h0M245.3 284.3h0M245.3 288.2h0M245.5 286.9h0M245.7 288.3h0M246.1 288.3h0M246.2 285.3h0M246.4 289.3h0M246 288.3h0M246.7 288.7h0M246.5 289.6h0M247.1 288.4h0M247.4 284.2h0M247.8 281.7h0M247.9 287.7h0M248.3 289.7h0M248.7 288h0M248.5 288.1h0M248.9 288.5h0M250.7 289.3h0M251.6 286.6h0M251.4 289.5h0M253.2 288.9h0M253.4 288.2h0M254.1 288.5h0M254.6 288.7h0M255.7 289h0M255.5 289.5h0M256.8 288.6h0M257.5 289.7h0M215.4 290.8h0M239.1 290h0M190 290.7h0M229.5 290.4h0M213.3 290.1h0M242.7 290.4h0M244.9 290.5h0M181.5 290.3h0M192.7 290.8h0M222.3 290h0M189 290.3h0M212.7 290.5h0M206.3 290.3h0M176 290.5h0M202 290h0M212 290.9h0M179.1 290.1h0M228.8 290.2h0M197.2 290.5h0M196.3 290.5h0M217.5 290.9h0M254.4 290h0M220.1 290.7h0M244.9 290.7h0M225.8 290.6h0M204.4 290.3h0M238.7 290.8h0M250.1 290.6h0M199.7 290.7h0M234.3 290.5h0M226 290.3h0M219.3 290.4h0M180.3 290.3h0M201.2 290.9h0M213.8 290.3h0M194.9 290.2h0M203.3 290.1h0M176.1 290.8h0M211.5 290.4h0M220.7 290.3h0M188.9 290.1h0M199.5 290.3h0M233.3 290.5h0M250 290.3h0M248.7 290.5h0M181.9 290.2h0M221.6 290.9h0M203.9 290.7h0M209.5 290.8h0M180.9 290.4h0" stroke="#ff0000" stroke-width="3.30" stroke-linecap="round" fill="none"/>
<line x1="150.30" y1="38.5" x2="150.30" y2="304.5" stroke="#000" stroke-width="1" stroke-dasharray="3.6 2.3 0.9 2.3" stroke-dashoffset="4.95"/>
<line x1="174.50" y1="38.5" x2="174.50" y2="304.5" stroke="#000" stroke-width="1" stroke-dasharray="3.6 2.3 0.9 2.3" stroke-dashoffset="4.95"/>
<line x1="32.5" y1="291.30" x2="292.5" y2="291.30" stroke="#000" stroke-width="1" stroke-dasharray="3.6 2.3 0.9 2.3" stroke-dashoffset="5.9"/>
<rect x="32.5" y="38.5" width="260.0" height="266.0" fill="none" stroke="#979797" stroke-width="1"/>
<line x1="29.9" y1="292.30" x2="32.5" y2="292.30" stroke="#333" stroke-width="0.9"/>
<text transform="translate(24.30 295.51) scale(0.955 1)" font-size="9.32" fill="#444">0</text>
<line x1="29.9" y1="243.73" x2="32.5" y2="243.73" stroke="#333" stroke-width="0.9"/>
<text transform="translate(19.35 246.94) scale(0.955 1)" font-size="9.32" fill="#444">50</text>
<line x1="29.9" y1="195.16" x2="32.5" y2="195.16" stroke="#333" stroke-width="0.9"/>
<text transform="translate(14.40 198.37) scale(0.955 1)" font-size="9.32" fill="#444">100</text>
<line x1="29.9" y1="146.59" x2="32.5" y2="146.59" stroke="#333" stroke-width="0.9"/>
<text transform="translate(14.40 149.80) scale(0.955 1)" font-size="9.32" fill="#444">150</text>
<line x1="29.9" y1="98.02" x2="32.5" y2="98.02" stroke="#333" stroke-width="0.9"/>
<text transform="translate(14.40 101.23) scale(0.955 1)" font-size="9.32" fill="#444">200</text>
<line x1="29.9" y1="49.45" x2="32.5" y2="49.45" stroke="#333" stroke-width="0.9"/>
<text transform="translate(14.40 52.66) scale(0.955 1)" font-size="9.32" fill="#444">250</text>
<line x1="41.40" y1="304.5" x2="41.40" y2="307.1" stroke="#333" stroke-width="0.9"/>
<text transform="translate(34.44 314.41) scale(0.955 1)" font-size="9.04" fill="#444">−10</text>
<line x1="101.90" y1="304.5" x2="101.90" y2="307.1" stroke="#333" stroke-width="0.9"/>
<text transform="translate(97.28 314.41) scale(0.955 1)" font-size="9.17" fill="#444">−5</text>
<line x1="162.40" y1="304.5" x2="162.40" y2="307.1" stroke="#333" stroke-width="0.9"/>
<text transform="translate(160.00 314.41) scale(0.955 1)" font-size="9.04" fill="#444">0</text>
<line x1="222.90" y1="304.5" x2="222.90" y2="307.1" stroke="#333" stroke-width="0.9"/>
<text transform="translate(220.47 314.41) scale(0.955 1)" font-size="9.17" fill="#444">5</text>
<line x1="283.40" y1="304.5" x2="283.40" y2="307.1" stroke="#333" stroke-width="0.9"/>
<text transform="translate(278.44 314.41) scale(0.955 1)" font-size="9.04" fill="#444">10</text>
<text x="162.4" y="325.9" font-size="10.3" fill="#000" text-anchor="middle">log2 (fold change)</text>
<text transform="translate(10.9,171.0) rotate(-90)" x="0" y="0" font-size="10.4" fill="#000" text-anchor="middle">−log10 (FDR)</text>
<path d="M9 26.8 L14.45 14.1 L19.9 26.8 M10.9 22.2 H18.1" stroke="#111" stroke-width="1.15" fill="none"/>
</g>
<clipPath id="clipB"><rect x="293" y="0" width="202" height="160"/></clipPath>
<g clip-path="url(#clipB)">
<rect x="293" y="0" width="202" height="160" fill="#fff"/>
<path d="M360.90 2.0V128.1M381.75 2.0V128.1M402.60 2.0V128.1M423.45 2.0V128.1M444.30 2.0V128.1M465.15 2.0V128.1M355.2 9.57H475.0M355.2 21.91H475.0M355.2 34.23H475.0M355.2 46.56H475.0M355.2 58.89H475.0M355.2 71.22H475.0M355.2 83.56H475.0M355.2 95.89H475.0M355.2 108.22H475.0M355.2 120.55H475.0" stroke="#f0f0f0" stroke-width="0.5" fill="none"/>
<rect x="360.9" y="4.15" width="92.90" height="10.85" fill="#ff0000"/>
<rect x="360.9" y="16.48" width="70.90" height="10.85" fill="#ff0000"/>
<rect x="360.9" y="28.81" width="108.80" height="10.85" fill="#ff0000"/>
<rect x="360.9" y="41.14" width="103.70" height="10.85" fill="#ff0000"/>
<rect x="360.9" y="53.47" width="77.90" height="10.85" fill="#ff0000"/>
<rect x="360.9" y="65.80" width="46.90" height="10.85" fill="#ff0000"/>
<rect x="360.9" y="78.13" width="73.00" height="10.85" fill="#ff0000"/>
<rect x="360.9" y="90.46" width="64.30" height="10.85" fill="#ca0088"/>
<rect x="360.9" y="102.79" width="50.90" height="10.85" fill="#7100e2"/>
<rect x="360.9" y="115.12" width="54.30" height="10.85" fill="#0000ff"/>
<rect x="355.2" y="2.0" width="119.8" height="126.1" fill="none" stroke="#d2d2d2" stroke-width="0.8"/>
<line x1="354.2" y1="9.57" x2="355.2" y2="9.57" stroke="#555" stroke-width="0.45"/>
<text x="353.8" y="10.92" font-size="2.55" fill="#1e1e1e" stroke="#1e1e1e" stroke-width="0.06" text-anchor="end">chromosome segregation</text>
<line x1="354.2" y1="21.91" x2="355.2" y2="21.91" stroke="#555" stroke-width="0.45"/>
<text x="353.8" y="23.25" font-size="2.55" fill="#1e1e1e" stroke="#1e1e1e" stroke-width="0.06" text-anchor="end">sister chromatid segregation</text>
<line x1="354.2" y1="34.23" x2="355.2" y2="34.23" stroke="#555" stroke-width="0.45"/>
<text x="353.8" y="35.59" font-size="2.55" fill="#1e1e1e" stroke="#1e1e1e" stroke-width="0.06" text-anchor="end">microtubule cytoskeleton organization</text>
<line x1="354.2" y1="46.56" x2="355.2" y2="46.56" stroke="#555" stroke-width="0.45"/>
<text x="353.8" y="47.91" font-size="2.55" fill="#1e1e1e" stroke="#1e1e1e" stroke-width="0.06" text-anchor="end">histone modification</text>
<line x1="354.2" y1="58.89" x2="355.2" y2="58.89" stroke="#555" stroke-width="0.45"/>
<text x="353.8" y="60.24" font-size="2.55" fill="#1e1e1e" stroke="#1e1e1e" stroke-width="0.06" text-anchor="end">nuclear chromosome segregation</text>
<line x1="354.2" y1="71.22" x2="355.2" y2="71.22" stroke="#555" stroke-width="0.45"/>
<text x="353.8" y="72.58" font-size="2.55" fill="#1e1e1e" stroke="#1e1e1e" stroke-width="0.06" text-anchor="end">sister chromatid cohesion</text>
<line x1="354.2" y1="83.56" x2="355.2" y2="83.56" stroke="#555" stroke-width="0.45"/>
<text x="353.8" y="84.91" font-size="2.55" fill="#1e1e1e" stroke="#1e1e1e" stroke-width="0.06" text-anchor="end">regulation of mRNA metabolic process</text>
<line x1="310.1" y1="86.26" x2="354.1" y2="86.26" stroke="#ff3030" stroke-width="0.85"/>
<line x1="354.2" y1="95.89" x2="355.2" y2="95.89" stroke="#555" stroke-width="0.45"/>
<text x="353.8" y="97.24" font-size="2.55" fill="#1e1e1e" stroke="#1e1e1e" stroke-width="0.06" text-anchor="end">mitotic nuclear division</text>
<line x1="354.2" y1="108.22" x2="355.2" y2="108.22" stroke="#555" stroke-width="0.45"/>
<text x="353.8" y="109.57" font-size="2.55" fill="#1e1e1e" stroke="#1e1e1e" stroke-width="0.06" text-anchor="end">protein export from nucleus</text>
<line x1="354.2" y1="120.55" x2="355.2" y2="120.55" stroke="#555" stroke-width="0.45"/>
<text x="353.8" y="121.90" font-size="2.55" fill="#1e1e1e" stroke="#1e1e1e" stroke-width="0.06" text-anchor="end">nuclear import</text>
<line x1="360.8" y1="128.1" x2="360.8" y2="129.1" stroke="#555" stroke-width="0.45"/>
<text x="360.8" y="131.7" font-size="2.6" fill="#222" text-anchor="middle">0</text>
<line x1="402.6" y1="128.1" x2="402.6" y2="129.1" stroke="#555" stroke-width="0.45"/>
<text x="402.6" y="131.7" font-size="2.6" fill="#222" text-anchor="middle">50</text>
<line x1="444.3" y1="128.1" x2="444.3" y2="129.1" stroke="#555" stroke-width="0.45"/>
<text x="444.3" y="131.7" font-size="2.6" fill="#222" text-anchor="middle">100</text>
<linearGradient id="lgB" x1="0" y1="0" x2="0" y2="1"><stop offset="0" stop-color="#0000ff"/><stop offset="0.5" stop-color="#ca0088"/><stop offset="1" stop-color="#ff0000"/></linearGradient>
<text x="478.5" y="56.4" font-size="2.3" fill="#303030">pvalue</text>
<rect x="478.5" y="57.7" width="4.0" height="18.3" fill="url(#lgB)"/>
<text x="483.5" y="62.8" font-size="2.3" fill="#383838">5e-10</text>
<text x="483.5" y="67.3" font-size="2.3" fill="#383838">1e-09</text>
<text x="483.5" y="71.9" font-size="2.3" fill="#383838">2e-09</text>
<text transform="translate(446.47 105.45) scale(0.728 1)" font-size="11.34" fill="#2a2a2a">BP</text>
</g>
<clipPath id="clipD"><rect x="293" y="160" width="202" height="170"/></clipPath>
<g clip-path="url(#clipD)">
<rect x="293" y="160" width="202" height="170" fill="#fff"/>
<path d="M360.40 169.2V296.1M378.35 169.2V296.1M396.30 169.2V296.1M414.25 169.2V296.1M432.20 169.2V296.1M450.15 169.2V296.1M468.10 169.2V296.1M354.3 176.40H478.5M354.3 188.90H478.5M354.3 201.40H478.5M354.3 213.90H478.5M354.3 226.40H478.5M354.3 238.90H478.5M354.3 251.40H478.5M354.3 263.90H478.5M354.3 276.40H478.5M354.3 288.90H478.5" stroke="#f0f0f0" stroke-width="0.5" fill="none"/>
<rect x="360.4" y="170.90" width="88.10" height="11.00" fill="#ff0000"/>
<rect x="360.4" y="183.40" width="112.50" height="11.00" fill="#ff0000"/>
<rect x="360.4" y="195.90" width="56.50" height="11.00" fill="#ff0000"/>
<rect x="360.4" y="208.40" width="69.20" height="11.00" fill="#ff0000"/>
<rect x="360.4" y="220.90" width="41.00" height="11.00" fill="#f80024"/>
<rect x="360.4" y="233.40" width="88.00" height="11.00" fill="#fa001e"/>
<rect x="360.4" y="245.90" width="65.60" height="11.00" fill="#e00060"/>
<rect x="360.4" y="258.40" width="53.50" height="11.00" fill="#d70072"/>
<rect x="360.4" y="270.90" width="47.50" height="11.00" fill="#3f00f6"/>
<rect x="360.4" y="283.40" width="51.80" height="11.00" fill="#0000ff"/>
<rect x="354.3" y="169.2" width="124.2" height="126.9" fill="none" stroke="#d2d2d2" stroke-width="0.8"/>
<line x1="353.3" y1="176.40" x2="354.3" y2="176.40" stroke="#555" stroke-width="0.45"/>
<text x="353.2" y="178.15" font-size="2.60" fill="#1e1e1e" stroke="#1e1e1e" stroke-width="0.00" text-anchor="end">cadherin binding</text>
<line x1="353.3" y1="188.90" x2="354.3" y2="188.90" stroke="#555" stroke-width="0.45"/>
<text x="353.2" y="190.65" font-size="2.60" fill="#1e1e1e" stroke="#1e1e1e" stroke-width="0.00" text-anchor="end">cell adhesion molecule binding</text>
<line x1="353.3" y1="201.40" x2="354.3" y2="201.40" stroke="#555" stroke-width="0.45"/>
<text x="353.2" y="203.15" font-size="2.60" fill="#1e1e1e" stroke="#1e1e1e" stroke-width="0.00" text-anchor="end">microtubule binding</text>
<line x1="353.3" y1="213.90" x2="354.3" y2="213.90" stroke="#555" stroke-width="0.45"/>
<text x="353.2" y="215.65" font-size="2.60" fill="#1e1e1e" stroke="#1e1e1e" stroke-width="0.00" text-anchor="end">tubulin binding</text>
<line x1="353.3" y1="226.40" x2="354.3" y2="226.40" stroke="#555" stroke-width="0.45"/>
<text x="353.2" y="228.15" font-size="2.60" fill="#1e1e1e" stroke="#1e1e1e" stroke-width="0.00" text-anchor="end">helicase activity</text>
<line x1="353.3" y1="238.90" x2="354.3" y2="238.90" stroke="#555" stroke-width="0.45"/>
<text x="353.2" y="240.65" font-size="2.60" fill="#1e1e1e" stroke="#1e1e1e" stroke-width="0.00" text-anchor="end">ATPase activity</text>
<line x1="353.3" y1="251.40" x2="354.3" y2="251.40" stroke="#555" stroke-width="0.45"/>
<text x="353.2" y="253.15" font-size="2.60" fill="#1e1e1e" stroke="#1e1e1e" stroke-width="0.00" text-anchor="end">transcription coactivator activity</text>
<line x1="353.3" y1="263.90" x2="354.3" y2="263.90" stroke="#555" stroke-width="0.45"/>
<text x="353.2" y="265.65" font-size="2.60" fill="#1e1e1e" stroke="#1e1e1e" stroke-width="0.00" text-anchor="end">ubiquitin-like protein ligase activity</text>
<line x1="353.3" y1="276.40" x2="354.3" y2="276.40" stroke="#555" stroke-width="0.45"/>
<text x="353.2" y="278.15" font-size="2.60" fill="#1e1e1e" stroke="#1e1e1e" stroke-width="0.00" text-anchor="end">histone binding</text>
<line x1="353.3" y1="288.90" x2="354.3" y2="288.90" stroke="#555" stroke-width="0.45"/>
<text x="353.2" y="290.65" font-size="2.60" fill="#1e1e1e" stroke="#1e1e1e" stroke-width="0.00" text-anchor="end">ubiquitin protein ligase activity</text>
<line x1="360.3" y1="296.1" x2="360.3" y2="297.1" stroke="#555" stroke-width="0.45"/>
<text x="360.3" y="299.9" font-size="2.6" fill="#222" text-anchor="middle">0</text>
<line x1="396.2" y1="296.1" x2="396.2" y2="297.1" stroke="#555" stroke-width="0.45"/>
<text x="396.2" y="299.9" font-size="2.6" fill="#222" text-anchor="middle">40</text>
<line x1="432.1" y1="296.1" x2="432.1" y2="297.1" stroke="#555" stroke-width="0.45"/>
<text x="432.1" y="299.9" font-size="2.6" fill="#222" text-anchor="middle">80</text>
<line x1="468.0" y1="296.1" x2="468.0" y2="297.1" stroke="#555" stroke-width="0.45"/>
<text x="468.0" y="299.9" font-size="2.6" fill="#222" text-anchor="middle">120</text>
<linearGradient id="lgD" x1="0" y1="0" x2="0" y2="1"><stop offset="0" stop-color="#0000ff"/><stop offset="0.5" stop-color="#ca0088"/><stop offset="1" stop-color="#ff0000"/></linearGradient>
<text x="482.3" y="223.7" font-size="2.3" fill="#303030">pvalue</text>
<rect x="482.3" y="225.0" width="3.8" height="18.7" fill="url(#lgD)"/>
<text x="487.1" y="229.7" font-size="2.3" fill="#383838">7.5e-05</text>
<text x="487.1" y="234.2" font-size="2.3" fill="#383838">5.0e-05</text>
<text x="487.1" y="239.4" font-size="2.3" fill="#383838">2.5e-05</text>
<text transform="translate(445.89 267.75) scale(0.858 1)" font-size="10.76" fill="#2a2a2a">MF</text>
</g>
<clipPath id="clipC"><rect x="495" y="0" width="190" height="160"/></clipPath>
<g clip-path="url(#clipC)">
<rect x="495" y="0" width="190" height="160" fill="#fff"/>
<path d="M547.40 3.2V130.3M561.97 3.2V130.3M576.54 3.2V130.3M591.11 3.2V130.3M605.68 3.2V130.3M620.25 3.2V130.3M634.82 3.2V130.3M649.39 3.2V130.3M663.96 3.2V130.3M541.7 10.70H667.4M541.7 23.19H667.4M541.7 35.68H667.4M541.7 48.17H667.4M541.7 60.66H667.4M541.7 73.15H667.4M541.7 85.64H667.4M541.7 98.13H667.4M541.7 110.62H667.4M541.7 123.11H667.4" stroke="#f0f0f0" stroke-width="0.5" fill="none"/>
<rect x="547.4" y="5.30" width="113.60" height="10.80" fill="#ff0000"/>
<rect x="547.4" y="17.79" width="114.50" height="10.80" fill="#ff0000"/>
<rect x="547.4" y="30.28" width="113.60" height="10.80" fill="#ff0000"/>
<rect x="547.4" y="42.77" width="69.90" height="10.80" fill="#ff0000"/>
<rect x="547.4" y="55.26" width="102.80" height="10.80" fill="#ff0000"/>
<rect x="547.4" y="67.75" width="104.90" height="10.80" fill="#ff0000"/>
<rect x="547.4" y="80.24" width="91.30" height="10.80" fill="#ff0000"/>
<rect x="547.4" y="92.73" width="48.60" height="10.80" fill="#fb001a"/>
<rect x="547.4" y="105.22" width="46.40" height="10.80" fill="#e80050"/>
<rect x="547.4" y="117.71" width="63.20" height="10.80" fill="#0000ff"/>
<rect x="541.7" y="3.2" width="125.7" height="127.1" fill="none" stroke="#d2d2d2" stroke-width="0.8"/>
<line x1="540.7" y1="10.70" x2="541.7" y2="10.70" stroke="#555" stroke-width="0.45"/>
<text x="540.4" y="12.40" font-size="2.65" fill="#1e1e1e" stroke="#1e1e1e" stroke-width="0.00" text-anchor="end">focal adhesion</text>
<line x1="540.7" y1="23.19" x2="541.7" y2="23.19" stroke="#555" stroke-width="0.45"/>
<text x="540.4" y="24.89" font-size="2.65" fill="#1e1e1e" stroke="#1e1e1e" stroke-width="0.00" text-anchor="end">cell-substrate junction</text>
<line x1="540.7" y1="35.68" x2="541.7" y2="35.68" stroke="#555" stroke-width="0.45"/>
<text x="540.4" y="37.38" font-size="2.65" fill="#1e1e1e" stroke="#1e1e1e" stroke-width="0.00" text-anchor="end">cell-substrate adherens junction</text>
<line x1="540.7" y1="48.17" x2="541.7" y2="48.17" stroke="#555" stroke-width="0.45"/>
<text x="540.4" y="49.87" font-size="2.65" fill="#1e1e1e" stroke="#1e1e1e" stroke-width="0.00" text-anchor="end">chromosome, centromeric region</text>
<line x1="540.7" y1="60.66" x2="541.7" y2="60.66" stroke="#555" stroke-width="0.45"/>
<text x="540.4" y="62.36" font-size="2.65" fill="#1e1e1e" stroke="#1e1e1e" stroke-width="0.00" text-anchor="end">chromosomal region</text>
<line x1="540.7" y1="73.15" x2="541.7" y2="73.15" stroke="#555" stroke-width="0.45"/>
<text x="540.4" y="74.85" font-size="2.65" fill="#1e1e1e" stroke="#1e1e1e" stroke-width="0.00" text-anchor="end">nuclear speck</text>
<line x1="540.7" y1="85.64" x2="541.7" y2="85.64" stroke="#555" stroke-width="0.45"/>
<text x="540.4" y="87.34" font-size="2.65" fill="#1e1e1e" stroke="#1e1e1e" stroke-width="0.00" text-anchor="end">spindle</text>
<line x1="540.7" y1="98.13" x2="541.7" y2="98.13" stroke="#555" stroke-width="0.45"/>
<text x="540.4" y="99.83" font-size="2.65" fill="#1e1e1e" stroke="#1e1e1e" stroke-width="0.00" text-anchor="end">kinetochore</text>
<line x1="540.7" y1="110.62" x2="541.7" y2="110.62" stroke="#555" stroke-width="0.45"/>
<text x="540.4" y="112.32" font-size="2.65" fill="#1e1e1e" stroke="#1e1e1e" stroke-width="0.00" text-anchor="end">nuclear periphery</text>
<line x1="540.7" y1="123.11" x2="541.7" y2="123.11" stroke="#555" stroke-width="0.45"/>
<text x="540.4" y="124.81" font-size="2.65" fill="#1e1e1e" stroke="#1e1e1e" stroke-width="0.00" text-anchor="end">condensed chromosome</text>
<line x1="547.4" y1="130.3" x2="547.4" y2="131.3" stroke="#555" stroke-width="0.45"/>
<text x="547.4" y="134.0" font-size="2.6" fill="#222" text-anchor="middle">0</text>
<line x1="576.5" y1="130.3" x2="576.5" y2="131.3" stroke="#555" stroke-width="0.45"/>
<text x="576.5" y="134.0" font-size="2.6" fill="#222" text-anchor="middle">30</text>
<line x1="605.6" y1="130.3" x2="605.6" y2="131.3" stroke="#555" stroke-width="0.45"/>
<text x="605.6" y="134.0" font-size="2.6" fill="#222" text-anchor="middle">60</text>
<line x1="634.7" y1="130.3" x2="634.7" y2="131.3" stroke="#555" stroke-width="0.45"/>
<text x="634.7" y="134.0" font-size="2.6" fill="#222" text-anchor="middle">90</text>
<line x1="663.8" y1="130.3" x2="663.8" y2="131.3" stroke="#555" stroke-width="0.45"/>
<text x="663.8" y="134.0" font-size="2.6" fill="#222" text-anchor="middle">120</text>
<linearGradient id="lgC" x1="0" y1="0" x2="0" y2="1"><stop offset="0" stop-color="#0000ff"/><stop offset="0.5" stop-color="#ca0088"/><stop offset="1" stop-color="#ff0000"/></linearGradient>
<text x="671.1" y="58.3" font-size="2.3" fill="#303030">pvalue</text>
<rect x="671.1" y="59.6" width="4.0" height="18.0" fill="url(#lgC)"/>
<text x="676.1" y="63.1" font-size="2.3" fill="#383838">2.0e-12</text>
<text x="676.1" y="67.0" font-size="2.3" fill="#383838">1.0e-12</text>
<text x="676.1" y="70.8" font-size="2.3" fill="#383838">7.5e-13</text>
<text x="676.1" y="74.4" font-size="2.3" fill="#383838">5.0e-13</text>
<text transform="translate(631.80 105.63) scale(0.749 1)" font-size="11.72" fill="#2a2a2a">CC</text>
</g>
<clipPath id="clipE"><rect x="495" y="160" width="190" height="170"/></clipPath>
<g clip-path="url(#clipE)">
<rect x="495" y="160" width="190" height="170" fill="#fff"/>
<path d="M550.00 169.7V296.0M563.56 169.7V296.0M577.12 169.7V296.0M590.68 169.7V296.0M604.24 169.7V296.0M617.80 169.7V296.0M631.36 169.7V296.0M644.92 169.7V296.0M544.9 177.10H658.6M544.9 189.50H658.6M544.9 201.90H658.6M544.9 214.30H658.6M544.9 226.70H658.6M544.9 239.10H658.6M544.9 251.50H658.6M544.9 263.90H658.6M544.9 276.30H658.6M544.9 288.70H658.6" stroke="#f0f0f0" stroke-width="0.5" fill="none"/>
<rect x="550.0" y="171.60" width="61.20" height="11.00" fill="#ff0000"/>
<rect x="550.0" y="184.00" width="80.30" height="11.00" fill="#ff0000"/>
<rect x="550.0" y="196.40" width="62.70" height="11.00" fill="#ff0000"/>
<rect x="550.0" y="208.80" width="70.70" height="11.00" fill="#ff0000"/>
<rect x="550.0" y="221.20" width="36.80" height="11.00" fill="#ff0000"/>
<rect x="550.0" y="233.60" width="103.50" height="11.00" fill="#fd000d"/>
<rect x="550.0" y="246.00" width="57.00" height="11.00" fill="#fc0012"/>
<rect x="550.0" y="258.40" width="32.80" height="11.00" fill="#f20037"/>
<rect x="550.0" y="270.80" width="69.40" height="11.00" fill="#d9006d"/>
<rect x="550.0" y="283.20" width="14.90" height="11.00" fill="#0000ff"/>
<rect x="544.9" y="169.7" width="113.7" height="126.3" fill="none" stroke="#d2d2d2" stroke-width="0.8"/>
<line x1="543.9" y1="177.10" x2="544.9" y2="177.10" stroke="#555" stroke-width="0.45"/>
<text x="544.1" y="178.45" font-size="2.65" fill="#1e1e1e" stroke="#1e1e1e" stroke-width="0.00" text-anchor="end">Cell cycle</text>
<line x1="543.9" y1="189.50" x2="544.9" y2="189.50" stroke="#555" stroke-width="0.45"/>
<text x="544.1" y="190.85" font-size="2.65" fill="#1e1e1e" stroke="#1e1e1e" stroke-width="0.00" text-anchor="end">Focal adhesion</text>
<line x1="543.9" y1="201.90" x2="544.9" y2="201.90" stroke="#555" stroke-width="0.45"/>
<text x="544.1" y="203.25" font-size="2.65" fill="#1e1e1e" stroke="#1e1e1e" stroke-width="0.00" text-anchor="end">Ubiquitin mediated proteolysis</text>
<line x1="543.9" y1="214.30" x2="544.9" y2="214.30" stroke="#555" stroke-width="0.45"/>
<text x="544.1" y="215.65" font-size="2.65" fill="#1e1e1e" stroke="#1e1e1e" stroke-width="0.00" text-anchor="end">Protein processing in endoplasmic reticulum</text>
<line x1="543.9" y1="226.70" x2="544.9" y2="226.70" stroke="#555" stroke-width="0.45"/>
<text x="544.1" y="228.05" font-size="2.65" fill="#1e1e1e" stroke="#1e1e1e" stroke-width="0.00" text-anchor="end">Adherens junction</text>
<line x1="543.9" y1="239.10" x2="544.9" y2="239.10" stroke="#555" stroke-width="0.45"/>
<text x="544.1" y="240.45" font-size="2.65" fill="#1e1e1e" stroke="#1e1e1e" stroke-width="0.00" text-anchor="end">Pathways in cancer</text>
<line x1="520.8" y1="241.50" x2="544.4" y2="241.50" stroke="#ff3030" stroke-width="0.85"/>
<line x1="543.9" y1="251.50" x2="544.9" y2="251.50" stroke="#555" stroke-width="0.45"/>
<text x="544.1" y="252.85" font-size="2.65" fill="#1e1e1e" stroke="#1e1e1e" stroke-width="0.00" text-anchor="end">RNA transport</text>
<line x1="527.2" y1="253.90" x2="544.4" y2="253.90" stroke="#ff3030" stroke-width="0.85"/>
<line x1="543.9" y1="263.90" x2="544.9" y2="263.90" stroke="#555" stroke-width="0.45"/>
<text x="544.1" y="265.25" font-size="2.65" fill="#1e1e1e" stroke="#1e1e1e" stroke-width="0.00" text-anchor="end">RNA degradation</text>
<line x1="523.6" y1="266.30" x2="544.4" y2="266.30" stroke="#ff3030" stroke-width="0.85"/>
<line x1="543.9" y1="276.30" x2="544.9" y2="276.30" stroke="#555" stroke-width="0.45"/>
<text x="544.1" y="277.65" font-size="2.65" fill="#1e1e1e" stroke="#1e1e1e" stroke-width="0.00" text-anchor="end">Regulation of actin cytoskeleton</text>
<line x1="543.9" y1="288.70" x2="544.9" y2="288.70" stroke="#555" stroke-width="0.45"/>
<text x="544.1" y="290.05" font-size="2.65" fill="#1e1e1e" stroke="#1e1e1e" stroke-width="0.00" text-anchor="end">Circadian rhythm</text>
<line x1="549.8" y1="296.0" x2="549.8" y2="297.0" stroke="#555" stroke-width="0.45"/>
<text x="549.8" y="299.6" font-size="2.6" fill="#222" text-anchor="middle">0</text>
<line x1="577.0" y1="296.0" x2="577.0" y2="297.0" stroke="#555" stroke-width="0.45"/>
<text x="577.0" y="299.6" font-size="2.6" fill="#222" text-anchor="middle">20</text>
<line x1="604.1" y1="296.0" x2="604.1" y2="297.0" stroke="#555" stroke-width="0.45"/>
<text x="604.1" y="299.6" font-size="2.6" fill="#222" text-anchor="middle">40</text>
<line x1="631.2" y1="296.0" x2="631.2" y2="297.0" stroke="#555" stroke-width="0.45"/>
<text x="631.2" y="299.6" font-size="2.6" fill="#222" text-anchor="middle">60</text>
<linearGradient id="lgE" x1="0" y1="0" x2="0" y2="1"><stop offset="0" stop-color="#0000ff"/><stop offset="0.5" stop-color="#ca0088"/><stop offset="1" stop-color="#ff0000"/></linearGradient>
<text x="662.0" y="223.8" font-size="2.3" fill="#303030">pvalue</text>
<rect x="662.0" y="225.1" width="4.1" height="18.8" fill="url(#lgE)"/>
<text x="667.1" y="229.5" font-size="2.3" fill="#383838">6e-05</text>
<text x="667.1" y="234.4" font-size="2.3" fill="#383838">4e-05</text>
<text x="667.1" y="239.5" font-size="2.3" fill="#383838">2e-05</text>
<text transform="translate(631.93 267.65) scale(0.840 1)" font-size="10.45" fill="#2a2a2a">KEGG</text>
</g>
<path d="M299.4 4.4 V16.8 M299.4 4.4 H303 C305.2 4.4 306.1 5.7 306.1 7.25 C306.1 8.8 305.2 10.1 303 10.1 H299.4 M303 10.1 H303.4 C305.8 10.1 306.9 11.6 306.9 13.45 C306.9 15.3 305.8 16.8 303.4 16.8 H299.4" stroke="#111" stroke-width="1.15" fill="none"/>
<path d="M520.2 6.9 C518.8 5.1 517.2 4.5 515.4 4.5 C511.6 4.5 509.4 7.6 509.4 11.1 C509.4 14.6 511.6 17.6 515.4 17.6 C517.4 17.6 519 16.8 520.3 15.1" stroke="#111" stroke-width="1.15" fill="none"/>
<path d="M299.4 168.9 V180.8 H303 C307 180.8 308.6 178 308.6 174.85 C308.6 171.7 307 168.9 303 168.9 Z" stroke="#111" stroke-width="1.15" fill="none"/>
<path d="M515.8 168.6 H509.1 V181.4 H516 M509.1 174.9 H514.8" stroke="#111" stroke-width="1.15" fill="none"/>
</svg></body></html>
